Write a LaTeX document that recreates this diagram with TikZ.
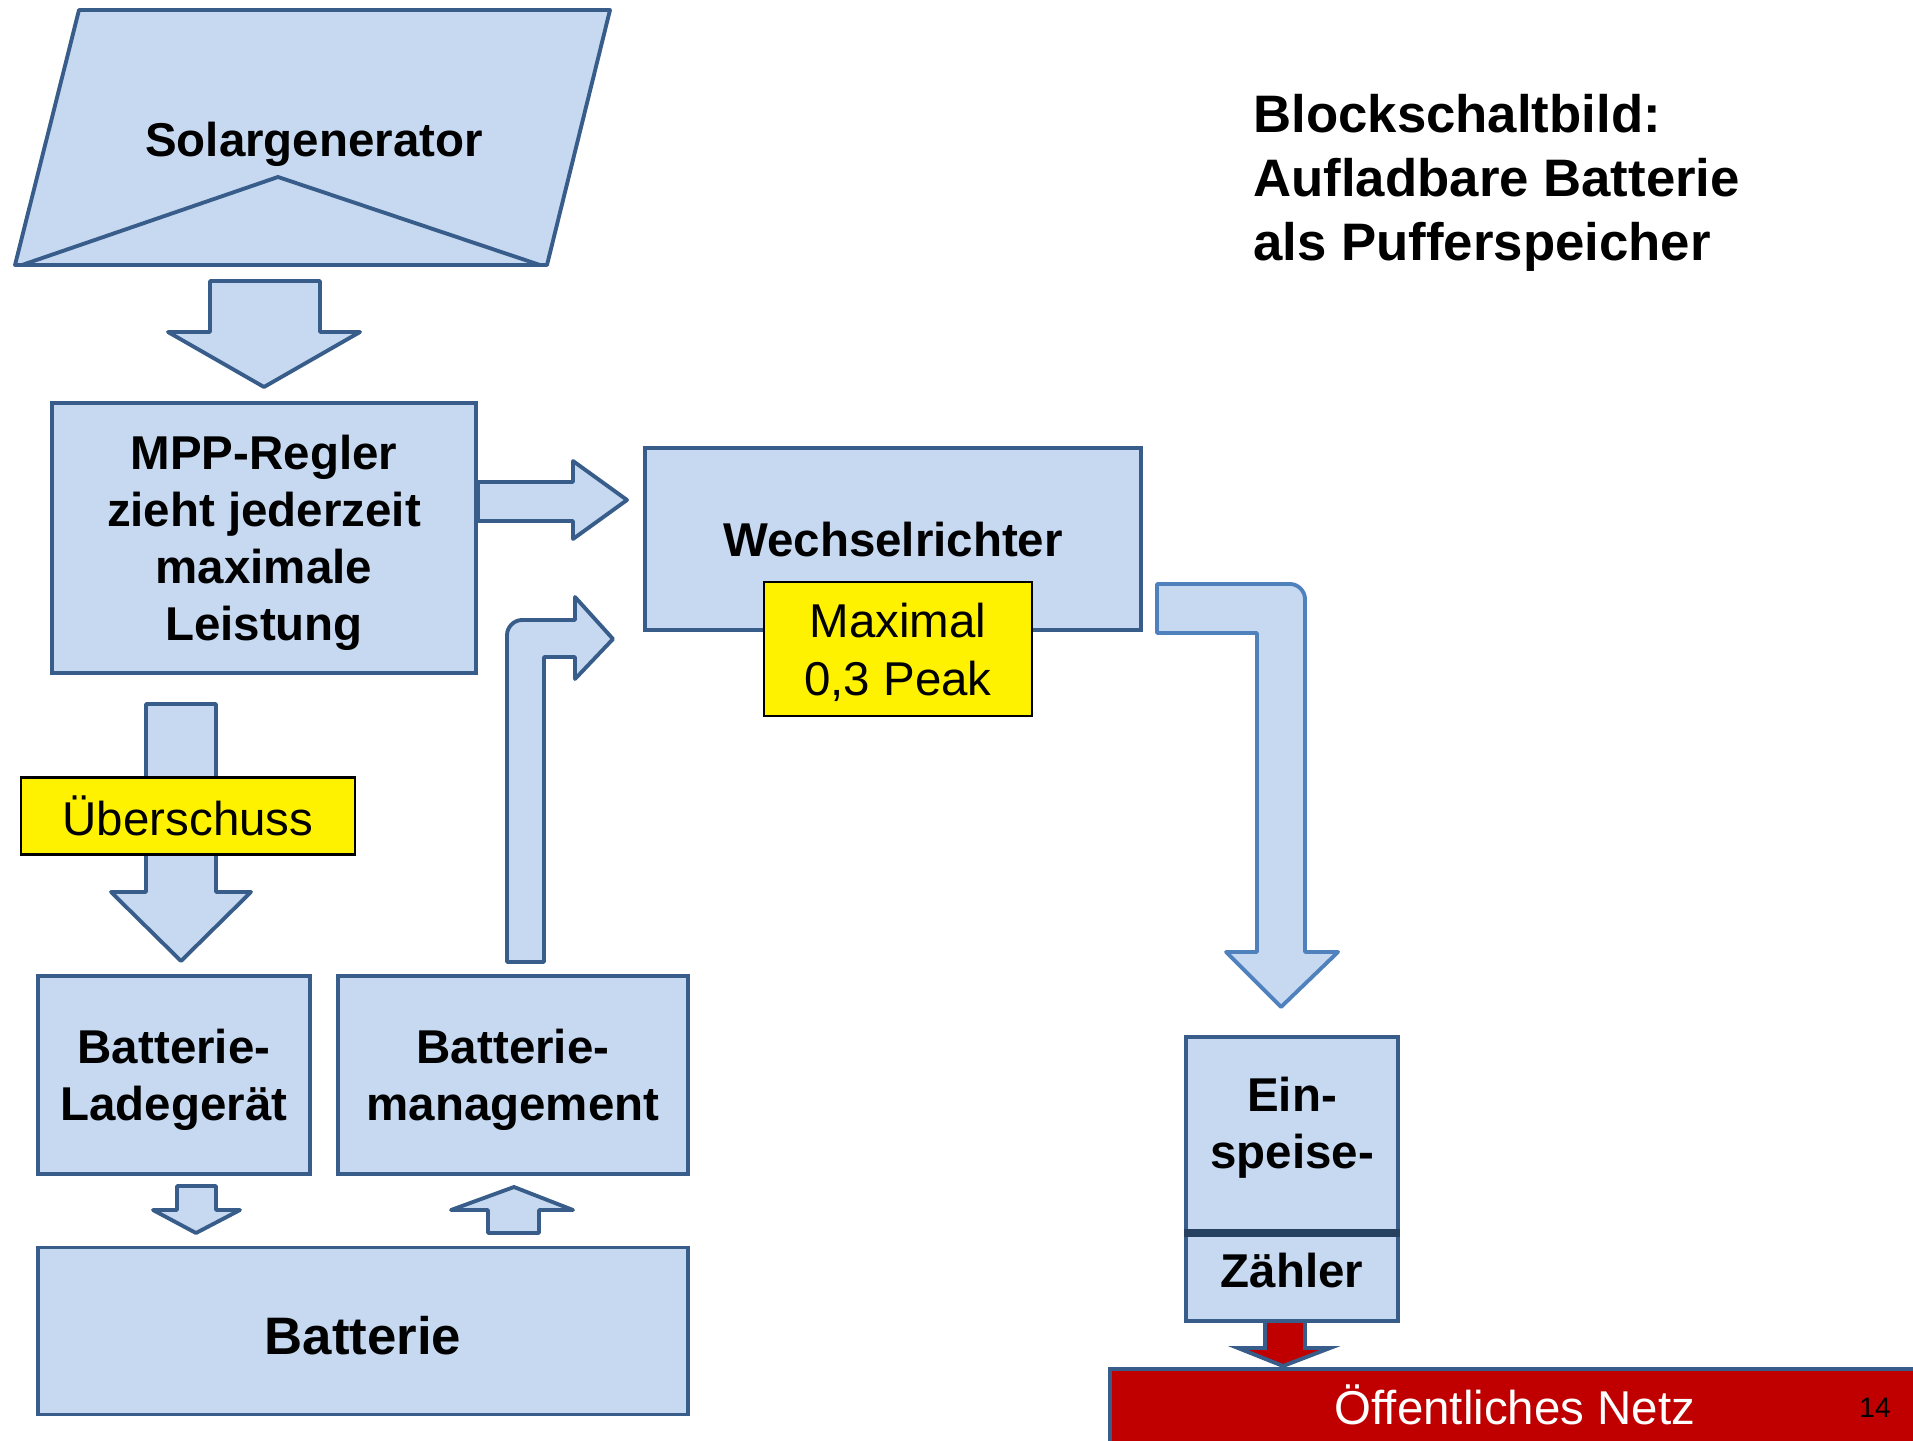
\documentclass[tikz,border=0pt]{standalone}
\usepackage{fontspec}
\setmainfont{Liberation Sans}
\usetikzlibrary{calc}

\definecolor{boxfill}{HTML}{C6D9F1}
\definecolor{boxline}{HTML}{385D8A}
\definecolor{arrline}{HTML}{4F81BD}
\definecolor{netzred}{HTML}{C00000}

\tikzset{
    block/.style={draw=boxline, fill=boxfill, line width=1.1pt, align=center, inner sep=0pt, text depth=0pt,
        font=\fontsize{13.5}{16.2}\selectfont\bfseries},
    note/.style={draw=black, fill=yellow, line width=0.6pt, align=center, inner sep=0pt, text depth=0pt,
        font=\fontsize{13.5}{16.5}\selectfont},
    barrow/.style={draw=boxline, fill=boxfill, line width=1.1pt, line join=round},
}

\begin{document}
\begin{tikzpicture}[x=0.01cm, y=-0.01cm]
    \useasboundingbox (0,0) rectangle (1913,1440);

    % Solargenerator
    \draw[barrow] (79,10) -- (610,10) -- (547,265) -- (15,265) -- cycle;
    \draw[boxline, line width=1.1pt, line join=round] (22,265) -- (278,177) -- (540,265);
    \node[font=\fontsize{13.5}{16.2}\selectfont\bfseries] (solar) at (314,144) {Solargenerator};

    % block arrows
    \draw[barrow] (210,281) -- (320,281) -- (320,332) -- (360,332) -- (264,387) -- (168,332) -- (210,332) -- cycle;
    \draw[barrow] (478,482) -- (573,482) -- (573,461) -- (627,500) -- (573,539) -- (573,521) -- (478,521) -- cycle;
    \draw[barrow] (146,704) -- (216,704) -- (216,892) -- (251,892) -- (181,961) -- (111,892) -- (146,892) -- cycle;
    \draw[barrow] (507,962) -- (507,635) .. controls (507,627) and (514,620) .. (522,620) -- (575,620) -- (575,597)
        -- (613,639) -- (575,679) -- (575,657) -- (544,657) -- (544,962) -- cycle;
    \draw[barrow, draw=arrline] (1157,584) -- (1290,584) .. controls (1298,584) and (1305,591) .. (1305,599)
        -- (1305,952) -- (1338,952) -- (1281,1007) -- (1226,952) -- (1257,952) -- (1257,633) -- (1157,633) -- cycle;
    \draw[barrow] (177,1186) -- (216,1186) -- (216,1210) -- (240,1210) -- (196,1233) -- (153,1210) -- (177,1210) -- cycle;
    \draw[barrow] (488,1233) -- (539,1233) -- (539,1210) -- (573,1210) -- (514,1187) -- (451,1210) -- (488,1210) -- cycle;

    % boxes
    \node[block, minimum width=4.24cm, minimum height=2.7cm] (mpp) at (264,538)
        {MPP-Regler\\zieht jederzeit\\maximale\\Leistung};
    \node[block, minimum width=4.96cm, minimum height=1.82cm] (wr) at (893,539) {Wechselrichter};
    \node[note, minimum width=2.68cm, minimum height=1.34cm] (peak) at (898,649) {Maximal\\0,3 Peak};
    \node[note, minimum width=3.33cm, minimum height=0.77cm] (ueber) at (188,816) {Überschuss};
    \node[block, minimum width=2.72cm, minimum height=1.98cm] (lade) at (174,1075) {Batterie-\\Ladegerät};
    \node[block, minimum width=3.49cm, minimum height=1.98cm] (mgmt) at (513,1075) {Batterie-\\management};
    \node[block, minimum width=6.5cm, minimum height=1.67cm, text height=13.2pt,
        font=\fontsize{15}{18}\selectfont\bfseries] (batt) at (363,1331) {Batterie};

    % Einspeisezaehler
    \node[block, minimum width=2.12cm, minimum height=1.94cm, text depth=6.2pt] (einsp) at (1292,1134) {Ein-\\speise-};
    \node[block, minimum width=2.12cm, minimum height=0.9cm, text depth=3.4pt] (zaehler) at (1292,1276) {Zähler};
    \draw[color=boxline!70!black, line width=2.2pt] (einsp.south west) -- (einsp.south east);

    % Netz
    \draw[draw=boxline, fill=netzred, line width=1.1pt] (1920,1369) -- (1110,1369) -- (1110,1450) -- (1920,1450);
    \draw[draw=boxline, fill=netzred, line width=1.1pt] (1265,1321) -- (1305,1321) -- (1305,1348) -- (1330,1348)
        -- (1283,1366) -- (1238,1348) -- (1265,1348) -- cycle;
    \node[text=white, font=\fontsize{13.5}{16}\selectfont] (netz) at (1515,1405) {Öffentliches Netz};
    \node[font=\fontsize{8}{10}\selectfont] (page) at (1875,1408) {14};

    % title
    \node[anchor=west, align=left, font=\fontsize{15}{18.2}\selectfont\bfseries] (title) at (1241,183)
        {Blockschaltbild:\\Aufladbare Batterie\\als Pufferspeicher};
\end{tikzpicture}
\end{document}
